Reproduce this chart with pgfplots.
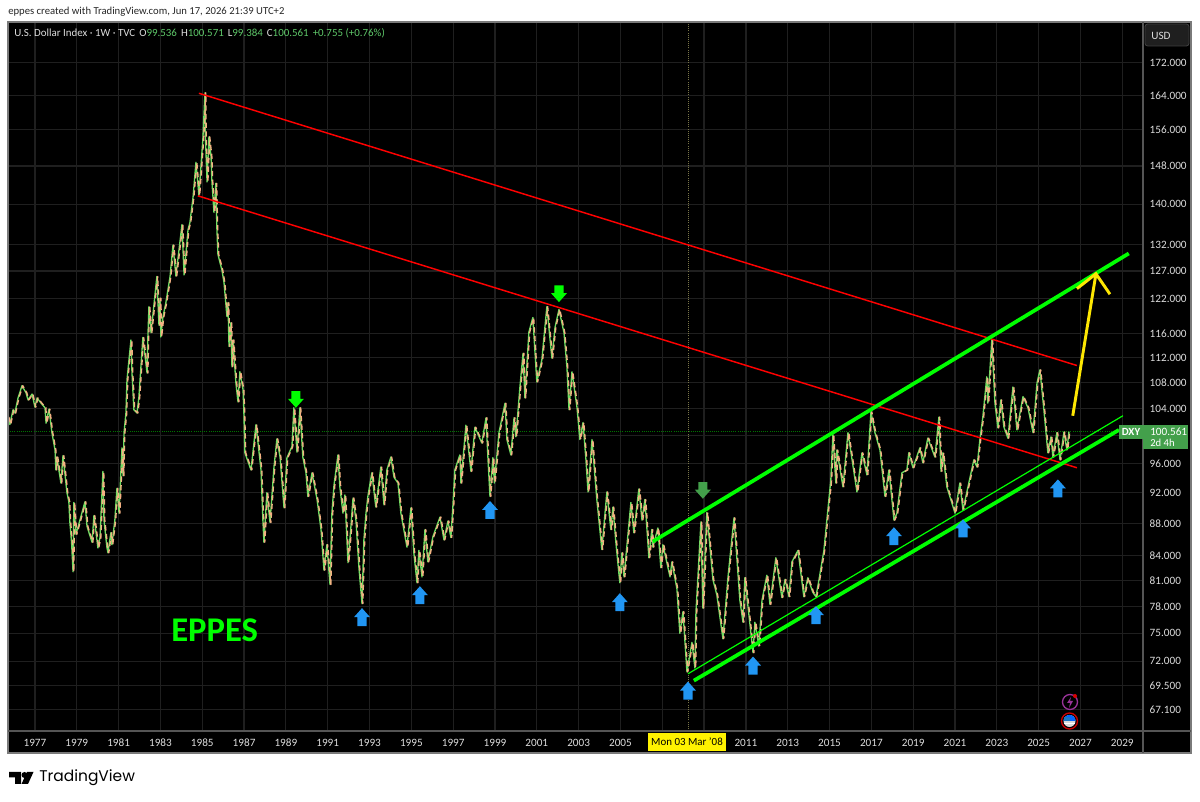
\documentclass[border=0pt]{standalone}
\usepackage{fontspec}
\setmainfont{Carlito}
\newfontfamily\poppins{Poppins}
\usepackage{pgfplots}
\usepackage{pgfplotstable}
\pgfplotsset{compat=1.18}
\definecolor{gridc}{HTML}{1F1F1F}
\definecolor{tvgreen}{HTML}{43A04B}
\definecolor{lightg}{HTML}{5FC96A}
\definecolor{candleg}{HTML}{6FDC62}
\definecolor{candlet}{HTML}{F4B183}
\definecolor{tvblue}{HTML}{2196F3}
\definecolor{labelc}{HTML}{DDDDDD}
\definecolor{frame}{HTML}{7A7A7A}
\pgfdeclareplotmark{uparr}{%
 \pgfpathmoveto{\pgfqpoint{0pt}{0pt}}\pgfpathlineto{\pgfqpoint{6pt}{-6.75pt}}\pgfpathlineto{\pgfqpoint{3.4pt}{-6.75pt}}\pgfpathlineto{\pgfqpoint{3.4pt}{-13.5pt}}\pgfpathlineto{\pgfqpoint{-3.4pt}{-13.5pt}}\pgfpathlineto{\pgfqpoint{-3.4pt}{-6.75pt}}\pgfpathlineto{\pgfqpoint{-6pt}{-6.75pt}}\pgfpathclose\pgfusepathqfill}
\pgfdeclareplotmark{downarr}{%
 \pgfpathmoveto{\pgfqpoint{0pt}{0pt}}\pgfpathlineto{\pgfqpoint{6pt}{6.75pt}}\pgfpathlineto{\pgfqpoint{3.4pt}{6.75pt}}\pgfpathlineto{\pgfqpoint{3.4pt}{12.5pt}}\pgfpathlineto{\pgfqpoint{-3.4pt}{12.5pt}}\pgfpathlineto{\pgfqpoint{-3.4pt}{6.75pt}}\pgfpathlineto{\pgfqpoint{-6pt}{6.75pt}}\pgfpathclose\pgfusepathqfill}
\pgfplotstableread{
x v
1975.71 102.7
1975.80 101.6
1975.95 103.8
1976.04 103.3
1976.19 105.6
1976.38 107.5
1976.57 106.4
1976.67 105.3
1976.86 106.2
1977.00 104.2
1977.10 105.6
1977.29 104.8
1977.48 104.1
1977.53 101.8
1977.67 103.9
1977.81 100.4
1977.96 97.9
1978.00 95.1
1978.05 96.9
1978.24 93.3
1978.34 97.1
1978.53 92.0
1978.62 90.8
1978.67 88.1
1978.75 85.6
1978.82 82.0
1978.86 90.7
1978.96 86.6
1979.15 88.4
1979.39 90.8
1979.49 87.6
1979.73 85.6
1979.82 89.0
1980.01 84.9
1980.11 86.2
1980.25 94.9
1980.30 88.4
1980.44 85.0
1980.49 84.3
1980.63 86.8
1980.68 85.3
1980.82 88.4
1980.92 92.6
1981.02 89.3
1981.16 98.2
1981.21 94.3
1981.26 100.4
1981.35 103.3
1981.40 108.4
1981.59 114.9
1981.64 109.5
1981.73 103.8
1981.88 103.3
1981.97 105.7
1982.16 115.3
1982.36 109.5
1982.40 115.4
1982.45 120.6
1982.55 116.1
1982.83 126.0
1982.93 117.4
1982.98 122.1
1983.02 115.4
1983.12 118.8
1983.26 121.3
1983.46 126.0
1983.60 131.9
1983.74 126.1
1984.03 135.9
1984.13 126.3
1984.32 134.9
1984.41 136.3
1984.56 141.4
1984.70 148.8
1984.84 141.8
1985.03 153.9
1985.13 164.6
1985.15 154.5
1985.23 144.6
1985.32 154.4
1985.42 150.0
1985.46 144.9
1985.56 138.3
1985.65 144.3
1985.70 135.1
1985.75 130.1
1985.94 127.2
1986.04 124.9
1986.18 118.9
1986.23 121.3
1986.28 113.8
1986.37 117.8
1986.42 110.5
1986.47 114.9
1986.61 107.9
1986.71 105.0
1986.80 109.7
1986.95 106.9
1986.99 103.5
1987.04 97.5
1987.33 95.1
1987.57 101.6
1987.81 95.1
1987.90 88.4
1987.95 85.6
1988.09 92.0
1988.24 88.1
1988.43 95.5
1988.57 99.5
1988.72 96.9
1988.91 90.0
1989.05 96.8
1989.29 98.4
1989.38 104.1
1989.53 97.6
1989.67 104.1
1989.81 96.9
1989.96 94.7
1990.05 91.5
1990.25 94.7
1990.49 91.1
1990.68 87.2
1990.82 82.2
1990.96 85.3
1991.11 80.5
1991.20 89.3
1991.30 93.0
1991.49 97.2
1991.58 92.8
1991.73 89.3
1991.82 91.7
1991.97 83.1
1992.11 87.6
1992.21 91.3
1992.35 88.4
1992.49 82.6
1992.64 78.3
1992.73 85.9
1992.83 89.3
1992.92 91.5
1993.11 94.7
1993.30 90.1
1993.54 95.5
1993.69 90.4
1993.83 95.1
1994.02 96.9
1994.17 94.1
1994.36 93.3
1994.50 89.3
1994.79 85.0
1994.98 90.0
1995.12 84.3
1995.27 80.7
1995.36 84.6
1995.51 81.4
1995.65 87.2
1995.79 83.2
1996.03 86.3
1996.37 88.8
1996.56 85.9
1996.75 88.3
1996.89 86.2
1996.99 90.4
1997.08 95.1
1997.32 97.2
1997.37 93.3
1997.61 101.5
1997.85 94.9
1998.04 101.2
1998.37 98.9
1998.57 102.6
1998.66 96.9
1998.76 91.5
1998.90 96.8
1998.97 93.3
1999.19 100.4
1999.48 104.8
1999.57 99.4
1999.76 97.2
1999.91 102.6
2000.00 99.8
2000.19 107.2
2000.34 112.7
2000.43 105.6
2000.62 116.2
2000.81 118.7
2001.00 108.1
2001.24 111.6
2001.48 120.6
2001.72 111.9
2001.87 117.0
2002.06 120.1
2002.30 116.1
2002.44 110.5
2002.54 103.8
2002.68 109.7
2002.92 104.2
2003.06 99.4
2003.21 101.9
2003.35 96.5
2003.45 92.1
2003.64 99.4
2003.78 94.2
2003.87 91.1
2004.11 84.7
2004.35 92.1
2004.54 87.2
2004.64 90.1
2004.78 85.6
2004.97 80.7
2005.07 84.3
2005.17 81.4
2005.50 90.7
2005.64 86.8
2005.88 92.5
2006.03 88.4
2006.17 91.1
2006.36 83.7
2006.50 87.2
2006.55 85.0
2006.79 87.4
2006.93 82.5
2007.03 85.3
2007.37 81.4
2007.46 83.2
2007.70 80.0
2007.84 75.0
2007.99 77.4
2008.18 70.9
2008.42 74.0
2008.56 71.3
2008.61 77.3
2008.85 88.2
2008.94 77.8
2009.13 89.4
2009.42 81.1
2009.61 79.3
2009.90 74.4
2010.14 81.3
2010.43 88.7
2010.71 78.7
2010.86 76.2
2010.95 81.3
2011.34 72.9
2011.43 76.2
2011.62 73.6
2011.77 78.7
2012.00 81.6
2012.15 78.2
2012.43 83.7
2012.72 79.0
2012.87 81.1
2013.06 79.1
2013.20 83.2
2013.49 84.6
2013.77 79.1
2013.96 81.3
2014.20 79.6
2014.35 79.1
2014.49 81.0
2014.73 84.6
2014.87 88.4
2015.06 93.7
2015.16 100.1
2015.30 93.3
2015.35 97.9
2015.64 92.8
2015.88 100.4
2016.31 92.1
2016.55 97.5
2016.79 94.4
2016.98 103.5
2017.17 100.4
2017.41 97.9
2017.65 91.5
2017.84 95.1
2018.08 88.4
2018.22 89.3
2018.46 94.7
2018.70 95.1
2018.79 97.5
2018.99 95.4
2019.32 98.2
2019.46 96.1
2019.70 99.6
2020.04 96.9
2020.23 102.7
2020.33 94.9
2020.42 97.5
2020.61 92.8
2021.00 89.3
2021.23 93.3
2021.38 89.7
2021.62 92.8
2021.90 96.5
2022.05 95.5
2022.19 99.4
2022.33 102.7
2022.52 108.9
2022.57 104.8
2022.76 114.9
2022.91 104.8
2023.05 101.1
2023.19 105.3
2023.34 101.2
2023.53 99.6
2023.77 107.3
2023.96 100.8
2024.25 105.8
2024.49 104.1
2024.73 100.4
2024.92 107.9
2025.06 110.0
2025.25 103.8
2025.44 97.5
2025.59 99.8
2025.68 96.9
2025.87 100.4
2026.02 96.5
2026.21 100.5
2026.35 97.9
2026.45 100.56
}\dxy
\begin{document}
\begin{tikzpicture}
\path[use as bounding box] (0,0) rectangle (900pt,601.5pt);
\begin{scope}[x=.75pt,y=-.75pt,yshift=601.5pt]
\fill[black] (8,22) rectangle (1191,753);
\end{scope}
\begin{axis}[
 at={(6pt,53.25pt)},anchor=south west,scale only axis,
 width=851.25pt,height=531.75pt,
 xmin=1975.71,xmax=2029.99,
 ymode=log,ymin=65.06,ymax=182.5,
 axis line style={draw=none},
 tick style={draw=none},
 xminorticks=false,yminorticks=false,
 grid=major,
 major grid style={gridc,line width=.9pt},
 xtick={1977,1979,1981,1983,1985,1987,1989,1991,1993,1995,1997,1999,2001,2003,2005,2007,2009,2011,2013,2015,2017,2019,2021,2023,2025,2027,2029},
 xticklabels={1977,1979,1981,1983,1985,1987,1989,1991,1993,1995,1997,1999,2001,2003,2005,,,2011,2013,2015,2017,2019,2021,2023,2025,2027,2029},
 ytick={172,164,156,148,140,132,127,122,116,112,108,104,100,96,92,88,84,81,78,75,72,69.5,67.1},
 yticklabels={172.000,164.000,156.000,148.000,140.000,132.000,127.000,122.000,116.000,112.000,108.000,104.000,,96.000,92.000,88.000,84.000,81.000,78.000,75.000,72.000,69.500,67.100},
 yticklabel pos=right,
 yticklabel style={anchor=west,font=\fontsize{8.4}{10}\selectfont,text=labelc,xshift=1.5pt},
 xticklabel style={anchor=center,font=\fontsize{8.4}{10}\selectfont,text=labelc,yshift=-9pt},
 clip=true,
]
\addplot[line width=.6pt,densely dotted,color=black!60!yellow] coordinates {(2008.23,65.06)(2008.23,182.5)};
\addplot[line width=.6pt,densely dotted,color=green!45!black] coordinates {(1975.71,100.561)(2029.99,100.561)};
\addplot[candleg,line width=1pt,line join=round] table[x=x,y=v]{\dxy};
\addplot[candlet,line width=1pt,line join=round,dash pattern=on 4pt off 2.5pt] table[x expr=\thisrow{x}+0.04,y=v]{\dxy};
\addplot[red,line width=1.1pt] coordinates {(1984.84,164.5)(2026.83,110.7)};
\addplot[red,line width=1.1pt] coordinates {(1984.79,141.7)(2026.83,95.4)};
\addplot[color=green,line width=2.8pt] coordinates {(2006.55,85.7)(2029.31,130.3)};
\addplot[color=green,line width=2.8pt] coordinates {(2008.51,70.0)(2028.84,100.8)};
\addplot[color=green,line width=.9pt] coordinates {(2008.23,70.7)(2029.03,102.9)};
\addplot[color=yellow!90!orange,line width=2.2pt] coordinates {(2026.63,102.9)(2027.74,126.5)};
\addplot[color=yellow!90!orange,line width=2.2pt] coordinates {(2026.83,123.8)(2027.74,126.5)(2028.41,122.8)};
\addplot[only marks,mark=uparr,color=tvblue,mark options={fill=tvblue,draw=none}] coordinates {(1992.64,77.8)(1995.41,80.3)(1998.76,90.9)(2004.97,79.5)(2008.23,69.9)(2011.34,72.5)(2014.35,78.0)(2018.08,87.5)(2021.38,88.5)(2025.92,93.8)};
\addplot[only marks,mark=downarr,color=green,mark options={fill=green,draw=none}] coordinates {(1989.48,104.1)(2002.06,121.4)};
\addplot[only marks,mark=downarr,color=tvgreen,mark options={fill=tvgreen,draw=none}] coordinates {(2008.94,91.2)};
\end{axis}
\begin{scope}[x=.75pt,y=-.75pt,yshift=601.5pt]
\draw[frame,line width=.8pt] (8,22) rectangle (1191,753);
\draw[frame!70!black,line width=.8pt] (8,731) -- (1191,731);
\draw[frame!70!black,line width=.8pt] (1143,22) -- (1143,753);
% header
\node[anchor=west,inner sep=0,font=\fontsize{8}{10}\selectfont,text=black!85] at (8,12) {eppes created with TradingView.com, Jun 17, 2026 21:39 UTC+2};
\node[anchor=west,inner sep=0,font=\fontsize{8.2}{10}\selectfont,text=labelc] at (14,33) {U.S. Dollar Index · 1W · TVC\hspace{3pt}O\textcolor{lightg}{99.536}\hspace{3pt}H\textcolor{lightg}{100.571}\hspace{3pt}L\textcolor{lightg}{99.384}\hspace{3pt}C\textcolor{lightg}{100.561}\hspace{3pt}\textcolor{lightg}{+0.755 (+0.76\%)}};
% USD button
\draw[fill=black!88,draw=black!75,rounded corners=2pt,line width=.6pt] (1145,24) rectangle (1189,46);
\node[inner sep=0,font=\fontsize{8.4}{10}\selectfont,text=labelc] at (1161,36) {USD};
% price tags
\fill[tvgreen] (1119,425) rectangle (1143,439);
\node[inner sep=0,font=\bfseries\fontsize{8.2}{10}\selectfont,text=white] at (1131,432) {DXY};
\fill[tvgreen] (1143,425) rectangle (1188,449);
\node[inner sep=0,anchor=west,font=\fontsize{8.4}{10}\selectfont,text=white] at (1150,432) {100.561};
\node[inner sep=0,anchor=west,font=\fontsize{8}{10}\selectfont,text=white] at (1150,443) {2d 4h};
% date label
\fill[yellow] (648,733) rectangle (726,751);
\node[inner sep=0,font=\fontsize{8.2}{10}\selectfont,text=black] at (687,742) {Mon 03 Mar '08};
% EPPES
\node[inner sep=0,anchor=west,font=\bfseries\fontsize{26}{30}\selectfont,text=green] at (171,630) {EPPES};
% icons
\draw[color=violet!80!white,line width=1pt] (1070,702) circle (7.5);
\fill[color=violet!80!white] (1071,697) -- (1067,703) -- (1070,703) -- (1069,708) -- (1073,701) -- (1070,701) -- cycle;
\fill[red!85!black] (1075,696) circle (2);
\fill[black] (1069.5,721) circle (8.5);
\draw[red!80!black,line width=1pt] (1069.5,721) circle (8);
\fill[white!85!black] (1069.5,721) circle (6);
\fill[blue!60!cyan] (1063.5,721) arc (180:360:6) -- cycle;
\fill[white] (1064,723) rectangle (1075,724.2);
\fill[tvblue!80!black] (1064,717) rectangle (1070,721);
% logo
\fill[black] (9,772) -- (21,772) -- (21,784) -- (15,784) -- (15,777.5) -- (9,777.5) -- cycle;
\fill[black] (24.5,775) circle (3);
\fill[black] (27,772) -- (33.5,772) -- (28,784) -- (21.5,784) -- cycle;
\node[inner sep=0,anchor=west,font=\poppins\fontsize{11.6}{14}\selectfont,text=black] at (39,778) {TradingView};
\end{scope}
\end{tikzpicture}
\end{document}
